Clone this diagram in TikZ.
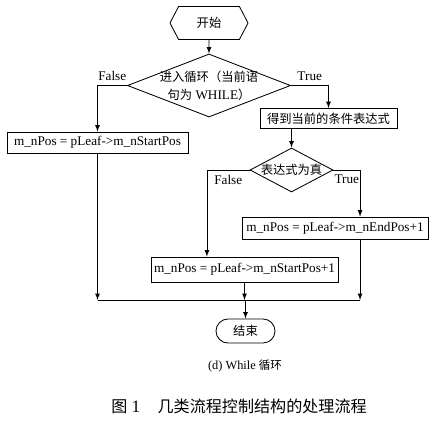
\documentclass[tikz,border=0pt]{standalone}
\usepackage{fontspec}
\setmainfont{Liberation Serif}
\newfontfamily\cjk{Noto Sans CJK SC}[Scale=0.93]
\usepackage{tikz}
\usetikzlibrary{shapes, arrows, positioning, calc}

\begin{document}
\begin{tikzpicture}[
            x=0.025cm, y=-0.025cm,
            >=latex, line width=0.6pt,
            font=\fontsize{9.4}{12.8}\selectfont,
            proc/.style={rectangle, draw, inner xsep=2pt, inner ysep=1pt, align=center},
            decide/.style={diamond, draw, inner sep=-1.5pt, align=center},
            term/.style={draw, rounded corners=0.3cm, minimum width=1.475cm, minimum height=0.6cm}
        ]
            \useasboundingbox (0,0) rectangle (438,422);
            \node[signal, signal to=west and east, signal pointer angle=125, draw, minimum width=1.95cm, minimum height=0.825cm, inner sep=0pt] (start) at (209,23) {\cjk 开始};
            \node[decide, minimum width=4.075cm, minimum height=1.575cm, aspect=2.6] (loop) at (209,85.5) {{\cjk 进入循环（当前语}\\{\cjk 句为} WHILE{\cjk ）}};
            \node[proc, minimum width=3.425cm, minimum height=0.5cm] (cond) at (328.5,118.5) {\cjk 得到当前的条件表达式};
            \node[proc, minimum width=4.525cm, minimum height=0.525cm] (init) at (97.5,142.5) {m\_nPos = pLeaf->m\_nStartPos};
            \node[decide, minimum width=2.075cm, minimum height=1.1cm, aspect=1.9, inner sep=0pt] (test) at (291.5,170) {\cjk 表达式为真};
            \node[proc, minimum width=4.65cm, minimum height=0.55cm] (endpos) at (335,228) {m\_nPos = pLeaf->m\_nEndPos+1};
            \node[proc, minimum width=4.675cm, minimum height=0.625cm] (startpos) at (244.5,269.5) {m\_nPos = pLeaf->m\_nStartPos+1};
            \node[term] (stop) at (245.5,331) {\cjk 结束};
            \node[font=\fontsize{8.8}{10}\selectfont] (sub) at (245,366) {(d) While {\cjk 循环}};
            \node[font=\fontsize{12.3}{14}\selectfont] (cap) at (239,406) {{\cjk 图} 1\quad{\cjk 几类流程控制结构的处理流程}};

            % off-centre ends of the connectors
            \coordinate (join) at (245.5,300);
            \coordinate (sin) at ($(startpos.north west)!0.3!(startpos.north east)$);
            \coordinate (ein) at ($(endpos.north west)!0.634!(endpos.north east)$);
            \coordinate (eout) at ($(endpos.south west)!0.634!(endpos.south east)$);

            \draw[->] (start) -- (loop);
            \draw[->] (loop.west) -| node[pos=0.25, above] (no1) {False} (init.north);
            \draw[->] (loop.east) -| node[pos=0.25, above] (yes1) {True} (cond.north);
            \draw[->] (test.north |- cond.south) -- (test.north);
            \draw[->] (test.west) -| node[pos=0.25, below] (no2) {False} (sin);
            \draw[->] (test.east) -| node[pos=0.25, below] (yes2) {True} (ein);
            \draw[->] (init.south) -- (init.south |- join);
            \draw[->] (startpos.south) -- (startpos.south |- join);
            \draw[->] (eout) -- (eout |- join);
            \draw (init.south |- join) -- (eout |- join);
            \draw[->] (join) -- (stop);
        \end{tikzpicture}
\end{document}
